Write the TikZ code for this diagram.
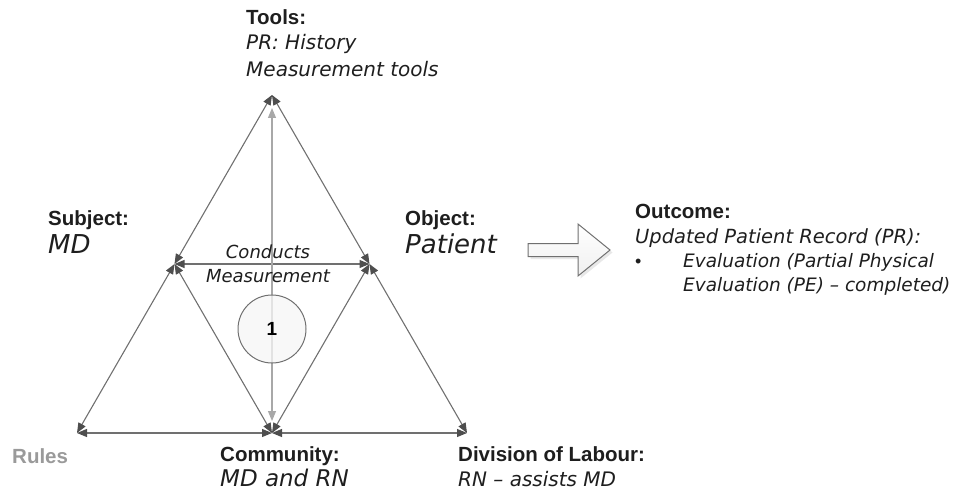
\documentclass[tikz,border=0pt]{standalone}
\usepackage{fontspec}
\setmainfont{Liberation Sans}
\newfontfamily\handfont{DejaVu Sans Oblique}
\usetikzlibrary{arrows.meta,shadows}

\definecolor{linegray}{HTML}{707070}
\definecolor{tipgray}{HTML}{4E4E4E}
\definecolor{lightline}{HTML}{A8A8A8}
\definecolor{rulesgray}{HTML}{9A9A9A}
\definecolor{inkgray}{HTML}{1E1E1E}

\newcommand\hdfont{\fontsize{20.5}{24}\selectfont\bfseries}
\newcommand\handsmall{\handfont\fontsize{20}{24}\selectfont}
\newcommand\handbig{\handfont\fontsize{26}{30}\selectfont}
\newcommand\handmid{\handfont\fontsize{18}{22}\selectfont}

\begin{document}
\begin{tikzpicture}[x=1pt,y=-1pt]
    \tikzstyle{link} = [draw=linegray, line width=1.1pt,
        {Triangle[length=10pt,width=8pt,color=tipgray]}-{Triangle[length=10pt,width=8pt,color=tipgray]}]
    \tikzstyle{vlink} = [draw=lightline, line width=1.1pt, shorten <=13pt, shorten >=12pt,
        {Triangle[length=10pt,width=8pt,color=lightline]}-{Triangle[length=10pt,width=8pt,color=lightline]}]
    \tikzstyle{head} = [font=\hdfont, text=inkgray, anchor=base west, inner sep=0pt]
    \tikzstyle{hand} = [font=\handsmall, text=inkgray, anchor=base west, inner sep=0pt]
    \tikzstyle{handlarge} = [font=\handbig, text=inkgray, anchor=base west, inner sep=0pt]
    \tikzstyle{stepcircle} = [circle, draw=linegray, line width=1pt, fill=gray!7,
        fill opacity=0.75, text opacity=1, minimum size=68pt, inner sep=0pt,
        font=\fontsize{19}{22}\selectfont\bfseries]
    \tikzstyle{bigarrow} = [draw=linegray, line width=1pt, top color=white,
        bottom color=gray!12, line join=miter,
        drop shadow={shadow xshift=2.5pt, shadow yshift=-2.5pt, fill=gray!35}]

    \useasboundingbox (0,0) rectangle (969,492);

    % corners of the activity triangle
    \coordinate (tools) at (272,95);
    \coordinate (rules) at (77,433);
    \coordinate (division) at (467,433);
    \coordinate (subject) at (174.5,264);
    \coordinate (object) at (369.5,264);
    \coordinate (community) at (272,433);

    % outer triangle
    \draw[link] (tools) -- (subject);
    \draw[link] (subject) -- (rules);
    \draw[link] (tools) -- (object);
    \draw[link] (object) -- (division);
    \draw[link] (rules) -- (community);
    \draw[link] (community) -- (division);
    % inner triangle
    \draw[link] (subject) -- (object);
    \draw[link] (subject) -- (community);
    \draw[link] (object) -- (community);
    % tools to community
    \draw[vlink] (tools) -- (community);
    \node[stepcircle] (step1) at (272,329) {1};

    % Tools
    \node[head] (toolshead) at (246,25) {Tools:};
    \node[hand] (toolspr) at ([yshift=-25pt]toolshead.base west) {PR: History};
    \node[hand] (toolsmeas) at ([yshift=-27pt]toolspr.base west) {Measurement tools};
    % Subject
    \node[head] (subjhead) at (48,225) {Subject:};
    \node[handlarge] (subjmd) at ([yshift=-28pt]subjhead.base west) {MD};
    % Object
    \node[head] (objhead) at (405,225) {Object:};
    \node[handlarge] (objpat) at ([yshift=-28pt]objhead.base west) {Patient};
    % action on the horizontal edge
    \node[font=\handmid, text=inkgray, anchor=base, inner sep=0pt] (conducts) at (268,258) {Conducts};
    \node[font=\handmid, text=inkgray, anchor=base, inner sep=0pt] (measure) at ([yshift=-24pt]conducts.base) {Measurement};

    % Outcome
    \draw[bigarrow] (528,243.5) -- (578,243.5) -- (578,224) -- (610,250)
        -- (578,276) -- (578,256.5) -- (528,256.5) -- cycle;
    \node[head] (outhead) at (635,218) {Outcome:};
    \node[hand, font=\handfont\fontsize{19.5}{24}\selectfont] (outpr) at ([yshift=-25pt]outhead.base west) {Updated Patient Record (PR):};
    \node[head, font=\fontsize{18}{20}\selectfont] (outbullet) at ([yshift=-24pt]outpr.base west) {•};
    \node[hand, font=\handfont\fontsize{18.5}{22}\selectfont] (outeval) at ([xshift=48pt,yshift=-24pt]outpr.base west) {Evaluation (Partial Physical};
    \node[hand, font=\handfont\fontsize{18.5}{22}\selectfont] (outpe) at ([yshift=-24pt]outeval.base west) {Evaluation (PE) – completed)};

    % Rules, Community, Division of Labour
    \node[head, text=rulesgray] (ruleshead) at (12,463) {Rules};
    \node[head] (commhead) at (220,461) {Community:};
    \node[handlarge, font=\handfont\fontsize{23}{27}\selectfont] (commtext) at ([yshift=-25pt]commhead.base west) {MD and RN};
    \node[head] (divhead) at (458,461) {Division of Labour:};
    \node[hand] (divtext) at ([yshift=-25pt]divhead.base west) {RN – assists MD};
\end{tikzpicture}
\end{document}
